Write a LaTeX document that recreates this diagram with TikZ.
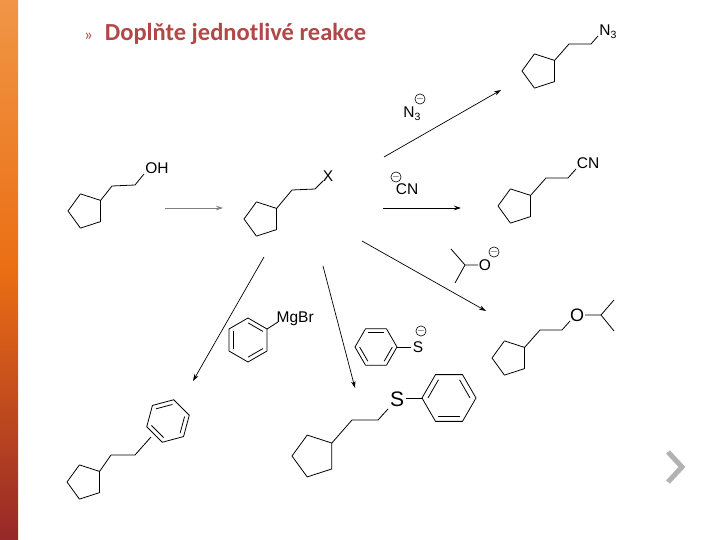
\documentclass[tikz,border=0pt]{standalone}
\usepackage{fontspec}
\setmainfont{Liberation Sans}
\newfontfamily\titlefont{Carlito}
\usetikzlibrary{calc,arrows.meta}
\definecolor{titlered}{RGB}{176,72,72}
\tikzset{bond/.style={line width=0.8pt,line join=round},
 rxn/.style={line width=0.7pt,-{Stealth[length=7pt,width=4.5pt]}},
 lab/.style={inner sep=0.5pt,font=\fontsize{15.5}{16}\selectfont},
 neg/.style={circle,draw,line width=0.6pt,inner sep=0pt,minimum size=10pt,font=\fontsize{10}{10}\selectfont}}
\newcommand\sub[1]{\raisebox{-3pt}{\fontsize{10.5}{10.5}\selectfont #1}}
\newcommand\pent[3]{\draw[bond] (#1+0.809*#3,#2-0.588*#3) -- (#1+0.809*#3,#2+0.588*#3) -- (#1-0.309*#3,#2+0.951*#3) -- (#1-#3,#2) -- (#1-0.309*#3,#2-0.951*#3) -- cycle;}
\newcommand\benz[4]{\draw[bond] (#1,#2) ++(#4:#3) -- ++(#4+120:#3) -- ++(#4+180:#3) -- ++(#4+240:#3) -- ++(#4+300:#3) -- ++(#4:#3) -- cycle;
 \foreach \k in {0,2,4}{\draw[bond] ($(#1,#2)+(#4+\k*60:0.78*#3)$) -- ($(#1,#2)+(#4+\k*60+60:0.78*#3)$);}}
\begin{document}
\begin{tikzpicture}[x=1pt,y=-1pt]
\useasboundingbox (0,0) rectangle (720,540);
\fill[white] (0,0) rectangle (720,540);
\shade[top color={rgb,255:red,240;green,150;blue,70},bottom color={rgb,255:red,150;green,40;blue,40},middle color={rgb,255:red,235;green,110;blue,20}] (0,0) rectangle (18,540);
\node[anchor=west,text=titlered,inner sep=0pt,font=\titlefont] (title) at (84,34) {\fontsize{17}{17}\selectfont»\hspace{12pt}\fontsize{24.5}{25}\selectfont\textbf{Doplňte jednotlivé reakce}};
% 1 OH
\pent{86}{211}{18}
\draw[bond] (100.6,200.4) -- (112,186) -- (135,185) -- (144,174);
\node[lab] (oh) at (157,168) {OH};
% 2 X
\pent{262}{219}{18}
\draw[bond] (276.6,208.4) -- (292,190) -- (315,189) -- (323,181);
\node[lab] (x) at (328,176) {X};
% 3 N3
\pent{540}{71}{18}
\draw[bond] (554.6,60.4) -- (569,44) -- (591,44) -- (598,36);
\node[lab] (n3) at (608,32) {N\sub{3}};
% 4 CN
\pent{516}{206}{18}
\draw[bond] (530.6,195.4) -- (546,178) -- (568,178) -- (576,169);
\node[lab] (cn) at (588,163) {CN};
% 5 ether
\pent{510}{358}{18}
\draw[bond] (524.6,347.4) -- (540,330) -- (562,330) -- (570,321);
\node[lab,font=\fontsize{18}{18}\selectfont] (o) at (577,315) {O};
\draw[bond] (585,315) -- (601,315) -- (614,300) (601,315) -- (614,331);
% 6 phenyl
\pent{85}{482}{18}
\draw[bond] (99.6,471.4) -- (111,455) -- (135,455) -- (151,437);
\benz{168}{421}{22}{-135}
% 7 S-phenyl
\pent{314}{456}{22}
\draw[bond] (331.8,443.1) -- (352,420) -- (378,420) -- (388,409);
\node[lab,font=\fontsize{21}{21}\selectfont] (s) at (397,399) {S};
\draw[bond] (406,398) -- (422,398);
\benz{449}{398}{27}{180}
% 8 PhMgBr
\benz{248}{340}{22}{150}
\draw[bond] (267,329) -- (278,322);
\node[lab,anchor=west] (mgbr) at (276,319) {MgBr};
% 9 PhS-
\benz{376}{347}{21}{0}
\draw[bond] (397,347) -- (411,347);
\node[lab] (sm) at (418,347) {S};
\node[neg] (sneg) at (421,331) {$-$};
% 10 iPrO-
\draw[bond] (451,249) -- (465,265) -- (455,283) (465,265) -- (478,265);
\node[lab] (om) at (485,265) {O};
\node[neg] (oneg) at (494,252) {$-$};
% reagents
\node[lab] (n3r) at (412,114) {N\sub{3}};
\node[neg] (n3neg) at (420,99) {$-$};
\node[neg] (cnneg) at (396,177) {$-$};
\node[lab] (cnr) at (407,189) {CN};
% arrows
\coordinate (a1) at (165,208); \coordinate (b1) at (223,208);
\draw[rxn,draw=gray] (a1) -- (b1);
\coordinate (a2) at (384,157); \coordinate (b2) at (501,90);
\draw[rxn] (a2) -- (b2);
\coordinate (a3) at (383,208); \coordinate (b3) at (461,208);
\draw[rxn] (a3) -- (b3);
\coordinate (a4) at (362,241); \coordinate (b4) at (486,311);
\draw[rxn] (a4) -- (b4);
\coordinate (a5) at (264,257); \coordinate (b5) at (193,381);
\draw[rxn] (a5) -- (b5);
\coordinate (a6) at (323,266); \coordinate (b6) at (355,388);
\draw[rxn] (a6) -- (b6);
% chevron
\coordinate (c1) at (668,452); \coordinate (c2) at (682,467); \coordinate (c3) at (668,482);
\draw[line width=5pt,gray!60] (c1) -- (c2) -- (c3);
\end{tikzpicture}
\end{document}
